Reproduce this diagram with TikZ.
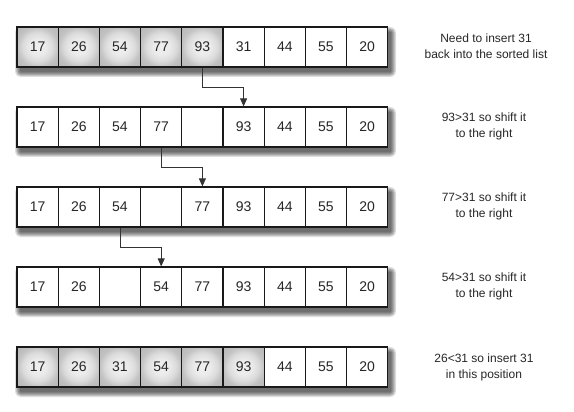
\documentclass[tikz,border=0pt]{standalone}
\usepackage{fontspec}
\setmainfont{Liberation Sans}
\usetikzlibrary{arrows.meta}
\pgfdeclareradialshading{cellshade}{\pgfpoint{0bp}{0bp}}{%
  color(0bp)=(black!6); color(10bp)=(black!8); color(18bp)=(black!14);
  color(25bp)=(black!24); color(35bp)=(black!28); color(50bp)=(black!28)}
\begin{document}
\begin{tikzpicture}[x=1pt,y=-1pt,
  cell/.style={draw=black!90,line width=1.2pt,minimum width=41.2pt,minimum height=40pt,
    inner sep=0pt,fill=white,font=\fontsize{14}{16}\selectfont,text=black!85},
  sorted/.style={cell,shading=cellshade},
  shadowlayer/.style={fill=black,fill opacity=0.13,draw=none},
  note/.style={align=center,font=\fontsize{12}{16}\selectfont,text=black!85},
  move/.style={draw=black!80,line width=0.8pt,-{Triangle[length=8pt,width=7pt]}}]
\useasboundingbox (0,0) rectangle (574,412);
% row data
\def\rowA{17,26,54,77,93,31,44,55,20}
\def\rowB{17,26,54,77,{},93,44,55,20}
\def\rowC{17,26,54,{},77,93,44,55,20}
\def\rowD{17,26,{},54,77,93,44,55,20}
\def\rowE{17,26,31,54,77,93,44,55,20}
% soft shadows under each row
\foreach \yy in {47,127,207,287,367}{
  \foreach \r in {1,2,...,6}{
    \fill[shadowlayer,rounded corners=\r pt]
      (21-\r,\yy-14-\r) rectangle (390+\r,\yy+24+\r);
  }
}
% rows
\foreach \v [count=\i] in \rowA {
  \ifnum\i<6
    \node[sorted] (a\i) at (17+41.2*\i-20.6,47) {\v};
  \else
    \node[cell] (a\i) at (17+41.2*\i-20.6,47) {\v};
  \fi
}
\foreach \v [count=\i] in \rowB {
  \node[cell] (b\i) at (17+41.2*\i-20.6,127) {\v};
}
\foreach \v [count=\i] in \rowC {
  \node[cell] (c\i) at (17+41.2*\i-20.6,207) {\v};
}
\foreach \v [count=\i] in \rowD {
  \node[cell] (d\i) at (17+41.2*\i-20.6,287) {\v};
}
\foreach \v [count=\i] in \rowE {
  \ifnum\i<7
    \node[sorted] (e\i) at (17+41.2*\i-20.6,367) {\v};
  \else
    \node[cell] (e\i) at (17+41.2*\i-20.6,367) {\v};
  \fi
}
% notes
\node[note] (na) at (486,46) {Need to insert 31\\back into the sorted list};
\node[note] (nb) at (484,126) {93>31 so shift it\\to the right};
\node[note] (nc) at (484,206) {77>31 so shift it\\to the right};
\node[note] (nd) at (484,286) {54>31 so shift it\\to the right};
\node[note] (ne) at (484,367) {26<31 so insert 31\\in this position};
% arrows
\draw[move] (a5.south) |- ++(0,20) -| (b6.north);
\draw[move] (b4.south) |- ++(0,20) -| (c5.north);
\draw[move] (c3.south) |- ++(0,20) -| (d4.north);
\end{tikzpicture}
\end{document}
